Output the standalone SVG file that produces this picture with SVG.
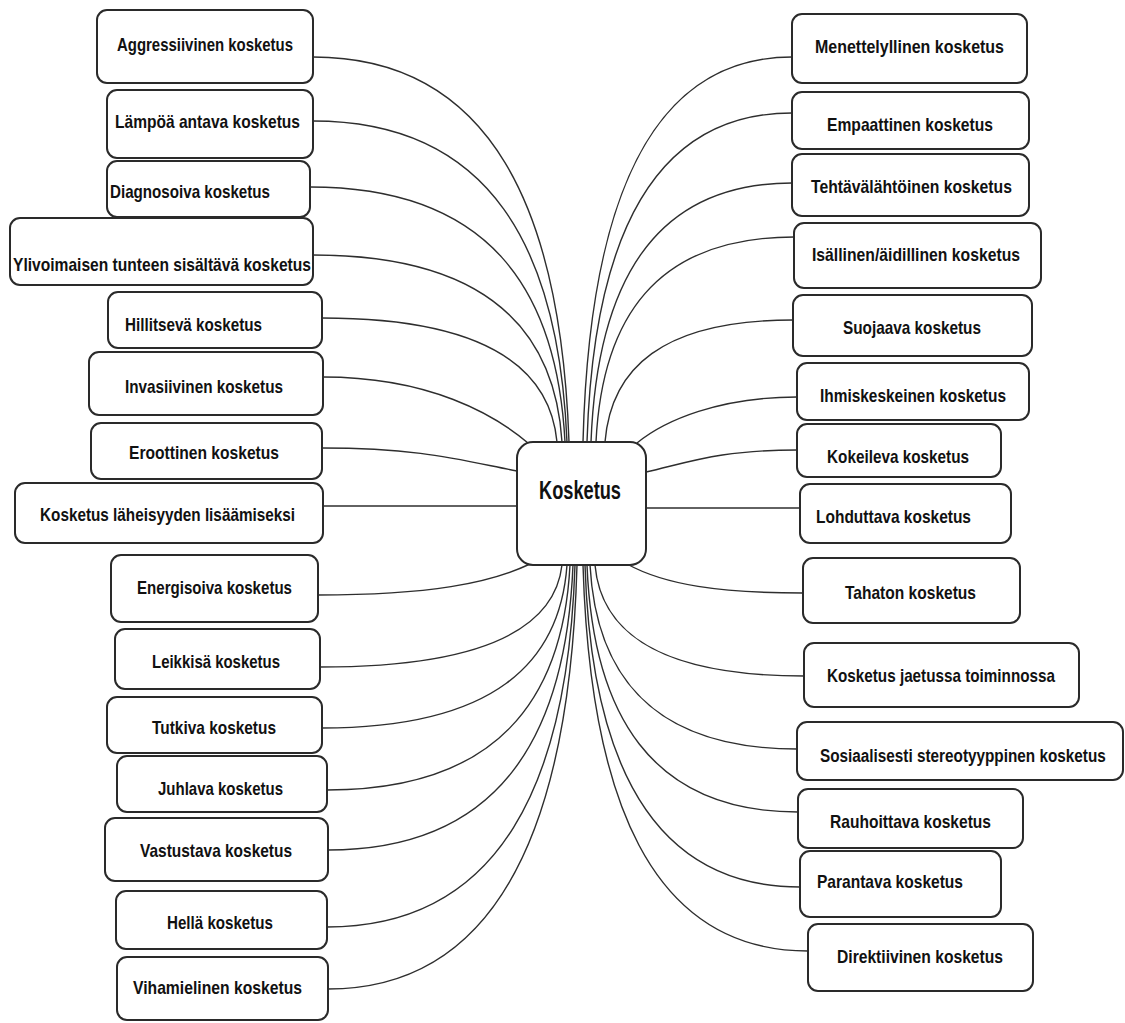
<svg xmlns="http://www.w3.org/2000/svg" width="1125" height="1023" viewBox="0 0 1125 1023">
<style>
.box{fill:#fff;stroke:#2a2a2a;stroke-width:2}
.lbl{font-family:"Liberation Sans",Arial,sans-serif;font-weight:bold;font-size:19px;fill:#111}
.ctr{font-family:"Liberation Sans",Arial,sans-serif;font-weight:bold;font-size:25px;fill:#111}
.conn path{fill:none;stroke:#2e2e2e;stroke-width:1.4}
</style>
<rect width="1125" height="1023" fill="#fff"/>
<g class="conn" id="connectors">
<path d="M313,57 C492,57 561,211 569,442"/>
<path d="M313,121 C491,121 559,249 567,442"/>
<path d="M310,187 C489,187 557,289 565,442"/>
<path d="M313,255 C487,255 555,330 562,442"/>
<path d="M322,318 C486,318 550,368 557,442"/>
<path d="M323,377 C430,377 495,415 528,443"/>
<path d="M322,448 C420,448 460,460 517,471"/>
<path d="M323,506 L517,506"/>
<path d="M318,595 C430,595 490,583 530,564"/>
<path d="M320,667 C489,667 555,626 562,565"/>
<path d="M322,728 C494,728 560,663 567,565"/>
<path d="M327,790 C497,790 563,700 570,565"/>
<path d="M328,850 C500,850 566,736 573,565"/>
<path d="M327,927 C501,927 568,782 575,565"/>
<path d="M328,989 C502,989 570,819 577,565"/>
<path d="M792,57 C646,57 589,211 583,442"/>
<path d="M792,113 C649,113 593,245 587,442"/>
<path d="M792,183 C651,183 597,287 591,442"/>
<path d="M794,237 C655,237 602,319 596,442"/>
<path d="M793,320 C661,320 611,369 605,442"/>
<path d="M797,397 C720,397 665,420 637,443"/>
<path d="M797,450 C720,450 690,462 646,472"/>
<path d="M800,508 L646,508"/>
<path d="M803,593 C720,593 665,585 627,564"/>
<path d="M804,676 C658,676 601,632 595,565"/>
<path d="M797,749 C652,749 596,675 590,565"/>
<path d="M798,812 C650,812 593,713 587,565"/>
<path d="M800,887 C650,887 591,758 585,565"/>
<path d="M808,951 C650,951 590,797 583,565"/>
</g>
<g id="center"><rect class="box" x="517" y="442" width="129" height="123" rx="16"/><text class="ctr" x="539" y="499" textLength="82" lengthAdjust="spacingAndGlyphs">Kosketus</text></g>
<g id="l1"><rect class="box" x="97" y="10" width="216" height="73" rx="10"/><text class="lbl" x="117" y="51" textLength="176" lengthAdjust="spacingAndGlyphs">Aggressiivinen kosketus</text></g>
<g id="l2"><rect class="box" x="107" y="90" width="206" height="68" rx="10"/><text class="lbl" x="115" y="128" textLength="185" lengthAdjust="spacingAndGlyphs">Lämpöä antava kosketus</text></g>
<g id="l3"><rect class="box" x="107" y="161" width="203" height="56" rx="10"/><text class="lbl" x="110" y="198" textLength="160" lengthAdjust="spacingAndGlyphs">Diagnosoiva kosketus</text></g>
<g id="l4"><rect class="box" x="10" y="218" width="303" height="67" rx="10"/><text class="lbl" x="13" y="271" textLength="298" lengthAdjust="spacingAndGlyphs">Ylivoimaisen tunteen sisältävä kosketus</text></g>
<g id="l5"><rect class="box" x="108" y="292" width="214" height="56" rx="10"/><text class="lbl" x="125" y="331" textLength="137" lengthAdjust="spacingAndGlyphs">Hillitsevä kosketus</text></g>
<g id="l6"><rect class="box" x="89" y="352" width="234" height="63" rx="10"/><text class="lbl" x="125" y="393" textLength="158" lengthAdjust="spacingAndGlyphs">Invasiivinen kosketus</text></g>
<g id="l7"><rect class="box" x="91" y="423" width="231" height="56" rx="10"/><text class="lbl" x="129" y="459" textLength="150" lengthAdjust="spacingAndGlyphs">Eroottinen kosketus</text></g>
<g id="l8"><rect class="box" x="15" y="483" width="308" height="60" rx="10"/><text class="lbl" x="40" y="521" textLength="255" lengthAdjust="spacingAndGlyphs">Kosketus läheisyyden lisäämiseksi</text></g>
<g id="l9"><rect class="box" x="111" y="555" width="207" height="67" rx="10"/><text class="lbl" x="137" y="594" textLength="155" lengthAdjust="spacingAndGlyphs">Energisoiva kosketus</text></g>
<g id="l10"><rect class="box" x="115" y="629" width="205" height="60" rx="10"/><text class="lbl" x="152" y="668" textLength="128" lengthAdjust="spacingAndGlyphs">Leikkisä kosketus</text></g>
<g id="l11"><rect class="box" x="107" y="697" width="215" height="56" rx="10"/><text class="lbl" x="152" y="734" textLength="124" lengthAdjust="spacingAndGlyphs">Tutkiva kosketus</text></g>
<g id="l12"><rect class="box" x="117" y="756" width="210" height="56" rx="10"/><text class="lbl" x="158" y="795" textLength="125" lengthAdjust="spacingAndGlyphs">Juhlava kosketus</text></g>
<g id="l13"><rect class="box" x="105" y="818" width="223" height="63" rx="10"/><text class="lbl" x="140" y="857" textLength="152" lengthAdjust="spacingAndGlyphs">Vastustava kosketus</text></g>
<g id="l14"><rect class="box" x="116" y="891" width="211" height="58" rx="10"/><text class="lbl" x="167" y="929" textLength="106" lengthAdjust="spacingAndGlyphs">Hellä kosketus</text></g>
<g id="l15"><rect class="box" x="117" y="957" width="211" height="63" rx="10"/><text class="lbl" x="133" y="994" textLength="169" lengthAdjust="spacingAndGlyphs">Vihamielinen kosketus</text></g>
<g id="r1"><rect class="box" x="792" y="14" width="235" height="69" rx="10"/><text class="lbl" x="815" y="53" textLength="189" lengthAdjust="spacingAndGlyphs">Menettelyllinen kosketus</text></g>
<g id="r2"><rect class="box" x="792" y="92" width="237" height="57" rx="10"/><text class="lbl" x="827" y="131" textLength="166" lengthAdjust="spacingAndGlyphs">Empaattinen kosketus</text></g>
<g id="r3"><rect class="box" x="792" y="154" width="237" height="62" rx="10"/><text class="lbl" x="811" y="193" textLength="201" lengthAdjust="spacingAndGlyphs">Tehtävälähtöinen kosketus</text></g>
<g id="r4"><rect class="box" x="794" y="223" width="247" height="65" rx="10"/><text class="lbl" x="812" y="261" textLength="208" lengthAdjust="spacingAndGlyphs">Isällinen/äidillinen kosketus</text></g>
<g id="r5"><rect class="box" x="793" y="295" width="239" height="61" rx="10"/><text class="lbl" x="843" y="334" textLength="138" lengthAdjust="spacingAndGlyphs">Suojaava kosketus</text></g>
<g id="r6"><rect class="box" x="797" y="363" width="232" height="57" rx="10"/><text class="lbl" x="820" y="402" textLength="186" lengthAdjust="spacingAndGlyphs">Ihmiskeskeinen kosketus</text></g>
<g id="r7"><rect class="box" x="797" y="424" width="204" height="53" rx="10"/><text class="lbl" x="827" y="463" textLength="142" lengthAdjust="spacingAndGlyphs">Kokeileva kosketus</text></g>
<g id="r8"><rect class="box" x="800" y="484" width="211" height="59" rx="10"/><text class="lbl" x="816" y="523" textLength="155" lengthAdjust="spacingAndGlyphs">Lohduttava kosketus</text></g>
<g id="r9"><rect class="box" x="803" y="558" width="217" height="65" rx="10"/><text class="lbl" x="845" y="599" textLength="131" lengthAdjust="spacingAndGlyphs">Tahaton kosketus</text></g>
<g id="r10"><rect class="box" x="804" y="643" width="275" height="64" rx="10"/><text class="lbl" x="827" y="682" textLength="228" lengthAdjust="spacingAndGlyphs">Kosketus jaetussa toiminnossa</text></g>
<g id="r11"><rect class="box" x="797" y="722" width="326" height="58" rx="10"/><text class="lbl" transform="translate(820,762) scale(0.76,1)" x="0" y="0" textLength="376" lengthAdjust="spacingAndGlyphs">Sosiaalisesti stereotyyppinen kosketus</text></g>
<g id="r12"><rect class="box" x="798" y="789" width="225" height="59" rx="10"/><text class="lbl" x="830" y="828" textLength="161" lengthAdjust="spacingAndGlyphs">Rauhoittava kosketus</text></g>
<g id="r13"><rect class="box" x="800" y="851" width="201" height="66" rx="10"/><text class="lbl" x="817" y="888" textLength="146" lengthAdjust="spacingAndGlyphs">Parantava kosketus</text></g>
<g id="r14"><rect class="box" x="808" y="924" width="225" height="67" rx="10"/><text class="lbl" x="837" y="963" textLength="166" lengthAdjust="spacingAndGlyphs">Direktiivinen kosketus</text></g>
</svg>
